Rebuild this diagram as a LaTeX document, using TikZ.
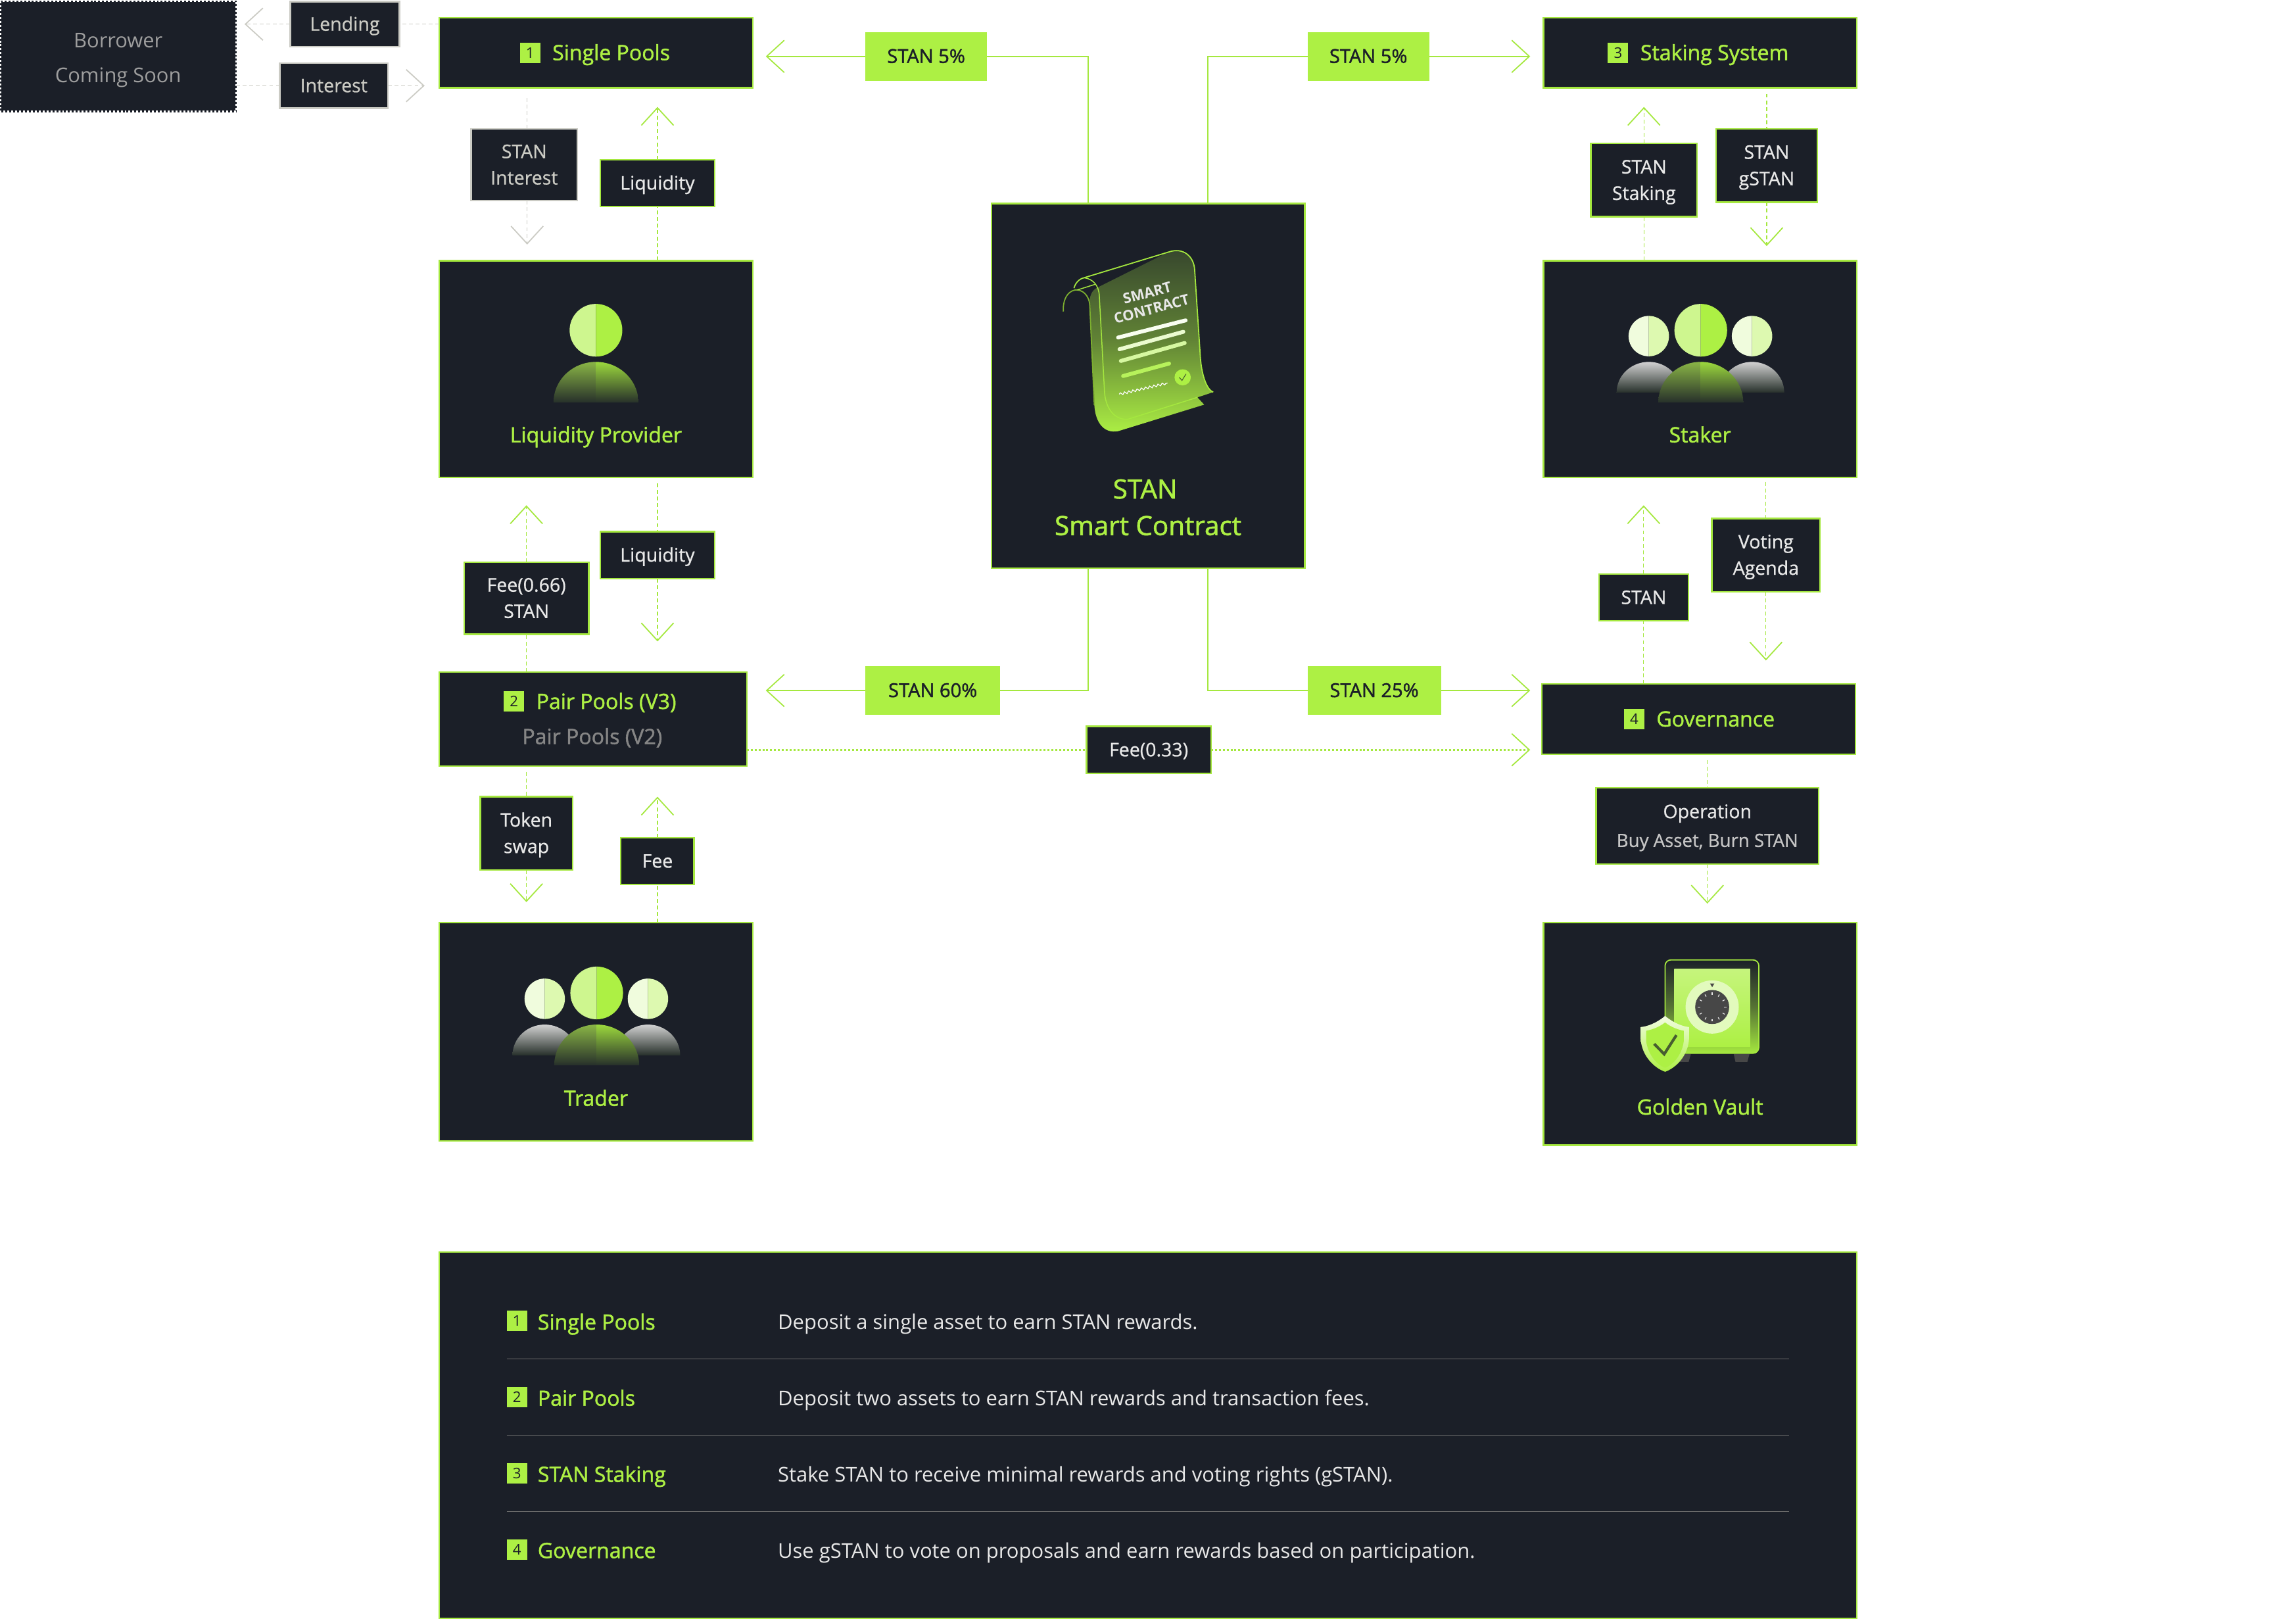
\documentclass[tikz,border=0pt]{standalone}
\usepackage{fontspec}
\setmainfont{Open Sans}
\usepackage{tikz}
\usetikzlibrary{arrows.meta,calc,decorations.pathmorphing}
\definecolor{darkbg}{HTML}{1B1F28}
\definecolor{limeg}{HTML}{ADF044}
\definecolor{edgeg}{HTML}{A5E83F}
\definecolor{greyline}{HTML}{CBCBC4}
\definecolor{softw}{HTML}{E8E8E8}
\newcommand{\tagstrut}{\rule[-3.4pt]{0pt}{13.5pt}}
\newcommand{\bigstrut}{\rule[-4.45pt]{0pt}{17.8pt}}
\tikzset{
  tipv/.style={-{Straight Barb[length=9pt,width=16.5pt,line width=0.6pt]}},
  card/.style={draw=edgeg,fill=darkbg,line width=0.8pt,inner sep=0pt,outer sep=0pt},
  tagbox/.style={card,text=softw,font=\fontsize{9.6}{13.5}\selectfont\addfontfeatures{FakeBold=0.8},align=center},
  greytag/.style={tagbox,draw=greyline,text=greyline},
  limetag/.style={fill=limeg,inner sep=0pt,outer sep=0pt,text=darkbg,font=\fontsize{9.8}{13.5}\selectfont\addfontfeatures{FakeBold=1.5}},
  badge/.style={fill=limeg,text=darkbg,minimum width=10.5pt,minimum height=10.5pt,inner sep=0pt,font=\fontsize{7.5}{9}\selectfont},
  titletext/.style={text=limeg,inner sep=0pt,text height=7.6pt,text depth=0pt,font=\fontsize{10.8}{13}\selectfont\addfontfeatures{FakeBold=1.5}},
  linkg/.style={draw=edgeg,line width=0.4pt,dash pattern=on 2pt off 1.4pt},
  linkw/.style={draw=greyline,line width=0.4pt,dash pattern=on 2pt off 1.4pt},
  dotg/.style={draw=edgeg,line width=1pt,dash pattern=on 1pt off 1pt},
  solidg/.style={draw=edgeg,line width=0.6pt},
  rowtext/.style={text=softw,anchor=west,inner sep=0pt,text height=7.6pt,text depth=0pt,font=\fontsize{10.43}{13}\selectfont},
  ruleline/.style={draw=black!58,line width=0.5pt},
  person/.pic={
    \begin{scope}
      \clip (-18,-18) rectangle (0,18);
      \fill[limeg!60!white] (0,0) circle (18);
    \end{scope}
    \begin{scope}
      \clip (0,-18) rectangle (18,18);
      \fill[limeg] (0,0) circle (18);
    \end{scope}
    \begin{scope}
      \clip (-29,-21) rectangle (0,-50);
      \shade[top color=limeg!72!black!90,bottom color=darkbg!92!limeg] (-29,-49.4) arc (180:0:29 and 27.8) -- cycle;
    \end{scope}
    \begin{scope}
      \clip (0,-21) rectangle (29,-50);
      \shade[top color=limeg!90!black,bottom color=darkbg!92!limeg] (-29,-49.4) arc (180:0:29 and 27.8) -- cycle;
    \end{scope}
  },
  sideperson/.pic={
    \begin{scope}
      \clip (-14,-14) rectangle (0,14);
      \fill[limeg!18!white] (0,0) circle (13.8);
    \end{scope}
    \begin{scope}
      \clip (0,-14) rectangle (14,14);
      \fill[limeg!42!white] (0,0) circle (13.8);
    \end{scope}
    \shade[top color=black!18,bottom color=darkbg!92!limeg] (-22,-38.6) arc (180:0:22 and 21) -- cycle;
  },
  crowd/.pic={
    \path (-35.5,-4) pic {sideperson} (35,-4) pic {sideperson} (0,0) pic {person};
  }
}
\begin{document}
\begin{tikzpicture}[x=0.75pt,y=0.75pt,yscale=-1,xscale=1]
\useasboundingbox (0,0) rectangle (1568,1105.5);

%Boxes: main cards
\node (borrower) [card,draw=darkbg,minimum width=120.8pt,minimum height=56.3pt,text=black!38,align=center,font=\fontsize{10.4}{17.8}\selectfont] at (80.7,38.5) {\bigstrut Borrower\\\bigstrut Coming Soon};
\draw [white,line width=0.8pt,dash pattern=on 1pt off 1pt] (borrower.north west) rectangle (borrower.south east);
\node (single) [card,minimum width=160.5pt,minimum height=36pt] at (407,36) {};
\node (provider) [card,minimum width=160.5pt,minimum height=111pt] at (407,252) {};
\node (pair) [card,minimum width=157.5pt,minimum height=48pt] at (405,491) {};
\node (trader) [card,minimum width=160.5pt,minimum height=111.8pt] at (407,704.5) {};
\node (contract) [card,minimum width=160.5pt,minimum height=186.8pt] at (784,263.5) {};
\node (staking) [card,minimum width=160.5pt,minimum height=36pt] at (1161,36) {};
\node (staker) [card,minimum width=160.5pt,minimum height=111pt] at (1161,252) {};
\node (governance) [card,minimum width=160.5pt,minimum height=36pt] at (1160,491) {};
\node (vault) [card,minimum width=160.5pt,minimum height=114pt] at (1161,706) {};
\node (legend) [card,minimum width=726pt,minimum height=187.5pt] at (784,980) {};

%Titles inside the cards
\node (onebadge) [badge] at (362,36) {1};
\node (onetitle) [titletext,anchor=west] at (377,36) {Single Pools};
\node (twobadge) [badge] at (351,479) {2};
\node (twotitle) [titletext,anchor=west] at (366,479) {Pair Pools (V3)};
\node (twoold) [titletext,text=black!48] at (404.5,503) {Pair Pools (V2)};
\node (threebadge) [badge] at (1105,36) {3};
\node (threetitle) [titletext,anchor=west] at (1120,36) {Staking System};
\node (fourbadge) [badge] at (1116,491) {4};
\node (fourtitle) [titletext,anchor=west] at (1131,491) {Governance};
\node (providertitle) [titletext] at (407,297) {Liquidity Provider};
\node (stakertitle) [titletext] at (1161,297) {Staker};
\node (tradertitle) [titletext] at (407,750) {Trader};
\node (vaulttitle) [titletext] at (1161,756) {Golden Vault};
\node (stantitle) [titletext,text height=9.6pt,font=\fontsize{13.6}{16}\selectfont\addfontfeatures{FakeBold=1.5}] at (782,334) {STAN};
\node (smarttitle) [titletext,text height=9.6pt,font=\fontsize{13.6}{16}\selectfont\addfontfeatures{FakeBold=1.5}] at (784,359) {Smart Contract};

%Tags on the connectors
\node (lending) [greytag,minimum width=56pt,minimum height=23pt] at (235.5,16.5) {\tagstrut Lending};
\node (interest) [greytag,minimum width=55.5pt,minimum height=23pt] at (228,58.5) {\tagstrut Interest};
\node (staninterest) [greytag,minimum width=54.4pt,minimum height=36.8pt] at (358,112.5) {\tagstrut STAN\\\tagstrut Interest};
\node (liqtop) [tagbox,minimum width=58.5pt,minimum height=24pt] at (449,125) {\tagstrut Liquidity};
\node (feesix) [tagbox,minimum width=63.8pt,minimum height=36.8pt] at (359.5,408.5) {\tagstrut Fee(0.66)\\\tagstrut STAN};
\node (liqmid) [tagbox,minimum width=58.5pt,minimum height=24pt] at (449,379) {\tagstrut Liquidity};
\node (tokenswap) [tagbox,minimum width=47.3pt,minimum height=37.5pt] at (359.5,569) {\tagstrut Token\\\tagstrut swap};
\node (feebox) [tagbox,minimum width=37.5pt,minimum height=24pt] at (449,588) {\tagstrut Fee};
\node (feethree) [tagbox,minimum width=63.8pt,minimum height=24pt] at (784.5,512) {\tagstrut Fee(0.33)};
\node (stanstake) [tagbox,minimum width=54.4pt,minimum height=37.5pt] at (1122.7,123) {\tagstrut STAN\\\tagstrut Staking};
\node (stangstan) [tagbox,minimum width=51.8pt,minimum height=37.5pt] at (1206.5,113) {\tagstrut STAN\\\tagstrut gSTAN};
\node (stanplain) [tagbox,minimum width=45.8pt,minimum height=24pt] at (1122.5,408) {\tagstrut STAN};
\node (voting) [tagbox,minimum width=55.5pt,minimum height=37.5pt] at (1206,379) {\tagstrut Voting\\\tagstrut Agenda};
\node (operation) [tagbox,minimum width=114pt,minimum height=39pt] at (1166,564) {\tagstrut Operation\\[1.2pt]\tagstrut{\fontsize{9.3}{13.5}\selectfont\color{softw!85!black}Buy Asset, Burn STAN}};
\node (stanfiveleft) [limetag,minimum width=62.3pt,minimum height=24.8pt] at (632.5,38.5) {\tagstrut STAN 5\%};
\node (stanfiveright) [limetag,minimum width=62.3pt,minimum height=24.8pt] at (934.5,38.5) {\tagstrut STAN 5\%};
\node (stansixty) [limetag,minimum width=69pt,minimum height=24.8pt] at (637,471.5) {\tagstrut STAN 60\%};
\node (stantwentyfive) [limetag,minimum width=68.3pt,minimum height=24.8pt] at (938.5,471.5) {\tagstrut STAN 25\%};

%Free ends of the connectors
\coordinate (tipsfive) at (523,38.5);
\coordinate (tipsfiver) at (1045,38.5);
\coordinate (tipsixty) at (523,471.5);
\coordinate (tiptwenty) at (1045,471.5);
\coordinate (tipfee) at (1045,512);
\coordinate (upleft) at (743,139);
\coordinate (upright) at (825,139);
\coordinate (lowleft) at (743,388);
\coordinate (lowright) at (825,388);

%Solid and dotted connectors
\draw [solidg,tipv] (stanfiveleft.west) -- (tipsfive);
\draw [solidg,tipv] (stanfiveright.east) -- (tipsfiver);
\draw [solidg,tipv] (stansixty.west) -- (tipsixty);
\draw [solidg,tipv] (stantwentyfive.east) -- (tiptwenty);
\draw [solidg] (stanfiveleft.east) -| (upleft);
\draw [solidg] (stanfiveright.west) -| (upright);
\draw [solidg] (stansixty.east) -| (lowleft);
\draw [solidg] (stantwentyfive.west) -| (lowright);
\draw [dotg] (pair.south east |- feethree.west) -- (feethree.west);
\draw [dotg,tipv] (feethree.east) -- (tipfee);

%Dashed connectors
\coordinate (lendtip) at (167,16.5);
\coordinate (intertip) at (290,58.5);
\draw [linkw] (single.west |- lending.east) -- (lending.east);
\draw [linkw,tipv] (lending.west) -- (lendtip);
\draw [linkw] (borrower.east |- interest.west) -- (interest.west);
\draw [linkw,tipv] (interest.east) -- (intertip);
\coordinate (sitop) at (360,67);
\coordinate (sitip) at (360,167);
\coordinate (sia) at (360,88);
\coordinate (sib) at (360,137);
\draw [linkw] (sitop) -- (sia);
\draw [linkw,tipv] (sib) -- (sitip);
\coordinate (lttip) at (449,73);
\draw [linkg] (provider.north -| liqtop.south) -- (liqtop.south);
\draw [linkg,tipv] (liqtop.north) -- (lttip);
\coordinate (fstip) at (359.5,345);
\draw [linkg] (pair.north -| feesix.south) -- (feesix.south);
\draw [linkg,tipv] (feesix.north) -- (fstip);
\coordinate (lmtop) at (449,330);
\coordinate (lmtip) at (449,438);
\draw [linkg] (lmtop) -- (liqmid.north);
\draw [linkg,tipv] (liqmid.south) -- (lmtip);
\coordinate (tstop) at (359.5,527);
\coordinate (tstip) at (359.5,616);
\draw [linkg] (tstop) -- (tokenswap.north);
\draw [linkg,tipv] (tokenswap.south) -- (tstip);
\coordinate (fbtip) at (449,544);
\draw [linkg] (trader.north -| feebox.south) -- (feebox.south);
\draw [linkg,tipv] (feebox.north) -- (fbtip);
\coordinate (sstip) at (1122.7,73);
\draw [linkg] (staker.north -| stanstake.south) -- (stanstake.south);
\draw [linkg,tipv] (stanstake.north) -- (sstip);
\coordinate (gstop) at (1206.5,64);
\coordinate (gstip) at (1206.5,168);
\draw [linkg] (gstop) -- (stangstan.north);
\draw [linkg,tipv] (stangstan.south) -- (gstip);
\coordinate (sptip) at (1122.5,345);
\draw [linkg] (governance.north -| stanplain.south) -- (stanplain.south);
\draw [linkg,tipv] (stanplain.north) -- (sptip);
\coordinate (vttop) at (1206,329);
\coordinate (vttip) at (1206,451);
\draw [linkg] (vttop) -- (voting.north);
\draw [linkg,tipv] (voting.south) -- (vttip);
\coordinate (optop) at (1166,519);
\coordinate (optip) at (1166,617);
\draw [linkg] (optop) -- (operation.north);
\draw [linkg,tipv] (operation.south) -- (optip);

%Icons: people
\path (407,225.5) pic {person};
\path (1161.5,225.5) pic {crowd};
\path (407.5,678) pic {crowd};

%Icon: scroll
\begin{scope}[shift={(664.6,125.7)},x=0.116pt,y=0.1332pt]
  \shade[top color=darkbg!82!limeg,bottom color=limeg,middle color=limeg!48!darkbg] (555,395) -- (860,262) .. controls (930,240) and (975,280) .. (978,330) -- (1002,650) .. controls (1006,730) and (1030,790) .. (1060,800) -- (990,820) -- (1020,848) -- (640,950) .. controls (580,960) and (540,920) .. (535,850) -- (515,470) .. controls (510,430) and (525,405) .. (555,395) -- cycle;
  \draw [edgeg,line width=0.6pt] (445,400) .. controls (455,370) and (480,362) .. (490,360) -- (860,262) .. controls (930,240) and (975,280) .. (978,330) -- (1002,650) .. controls (1006,730) and (1030,790) .. (1060,800);
  \draw [edgeg!75!black,line width=0.6pt] (398,490) .. controls (395,430) and (430,405) .. (460,407) .. controls (495,410) and (515,440) .. (515,470) -- (535,850);
  \draw [edgeg,line width=0.5pt] (460,407) -- (540,385);
  \draw [edgeg,line width=0.5pt] (490,360) .. controls (530,365) and (555,390) .. (557,430) -- (580,800) .. controls (585,860) and (620,905) .. (680,905) -- (990,820);
  \node [rotate=15,text=softw,inner sep=0pt,font=\fontsize{7.4}{8.6}\selectfont\bfseries,align=center] (scrolltext) at (778,449) {SMART\\CONTRACT};
  \draw [line width=2pt,line cap=round,white!92!limeg] (640,590) -- (938,524);
  \draw [line width=2pt,line cap=round,white!75!limeg] (646,635) -- (928,568);
  \draw [line width=2pt,line cap=round,white!50!limeg] (652,680) -- (934,611);
  \draw [line width=2pt,line cap=round,white!12!limeg] (662,738) -- (865,690);
  \fill [limeg] (925,743) ellipse (36 and 31);
  \draw [darkbg!65!limeg,line width=0.4pt] (910,743) -- (922,755) -- (940,730);
  \draw [white,line width=0.4pt,decorate,decoration={snake,amplitude=0.6pt,segment length=2.2pt}] (645,808) -- (858,765);
\end{scope}

%Icon: vault and shield
\begin{scope}[shift={(1041.8,619.7)},x=0.1117pt,y=0.1117pt]
  \draw [edgeg,line width=0.6pt,rounded corners=3pt,top color=darkbg,bottom color=edgeg,middle color=darkbg!60!limeg] (640,240) rectangle (1070,668);
  \fill [black!72] (955,672) -- (1027,672) -- (1017,708) -- (963,708) -- cycle;
  \fill [black!72] (700,672) -- (758,672) -- (748,708) -- (700,708) -- cycle;
  \shade [top color=limeg!70!white,bottom color=limeg] (682,283) rectangle (1030,636);
  \fill [limeg!35!white] (856,456) circle (122);
  \fill [black!72] (856,456) circle (78);
  \fill [black!72] (846,348) -- (866,348) -- (856,365) -- cycle;
  \foreach \ang in {0,30,...,330}
    \draw [softw,line width=0.4pt] ($(856,456)+(\ang:55)$) -- ($(856,456)+(\ang:66)$);
  \shade [top color=white!85!limeg,bottom color=limeg] (640,497) .. controls (600,530) and (560,545) .. (528,548) -- (528,600) .. controls (532,680) and (590,735) .. (640,753) .. controls (690,735) and (746,680) .. (750,600) -- (750,548) .. controls (720,545) and (680,530) .. (640,497) -- cycle;
  \fill [limeg] (640,527) .. controls (610,550) and (580,560) .. (553,565) -- (553,610) .. controls (560,670) and (600,720) .. (640,735) .. controls (680,720) and (720,670) .. (726,610) -- (726,565) .. controls (700,560) and (670,550) .. (640,527) -- cycle;
  \draw [darkbg!70!limeg,line width=1.4pt] (590,625) -- (636,672) -- (692,585);
\end{scope}

%Legend rows
\foreach \rowy/\rownum/\rowname/\rowtxt in {
  902/1/Single Pools/Deposit a single asset to earn STAN rewards.,
  954/2/Pair Pools/Deposit two assets to earn STAN rewards and transaction fees.,
  1006/3/STAN Staking/Stake STAN to receive minimal rewards and voting rights (gSTAN).,
  1058/4/Governance/Use gSTAN to vote on proposals and earn rewards based on participation.}
{
  \node (rowbadge\rownum) [badge] at (353,\rowy) {\rownum};
  \node (rowname\rownum) [titletext,anchor=west,yshift=-0.6pt] at (367,\rowy) {\rowname};
  \node (rowtext\rownum) [rowtext,yshift=-0.6pt] at (531,\rowy) {\rowtxt};
}
\foreach \ruley in {928,980,1032}
  \draw [ruleline] (346,\ruley) -- (1222,\ruley);
\end{tikzpicture}
\end{document}
